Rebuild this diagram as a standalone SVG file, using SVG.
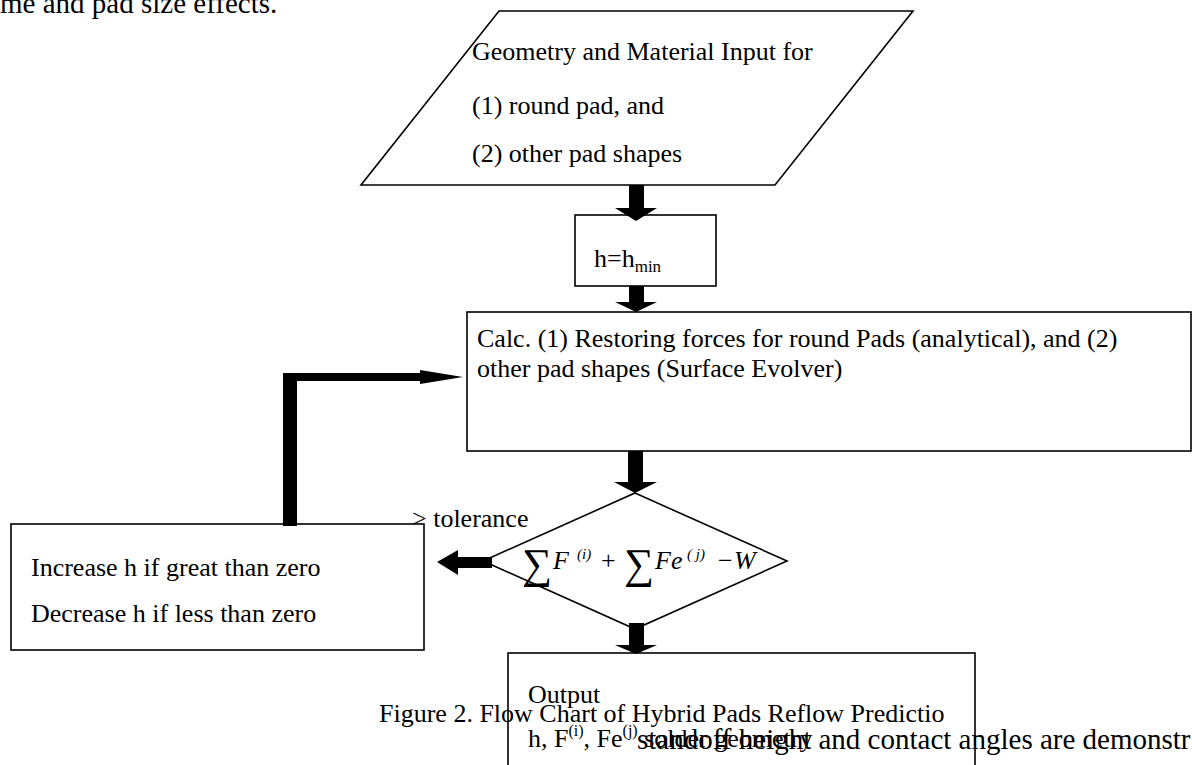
<svg xmlns="http://www.w3.org/2000/svg" width="1192" height="765" viewBox="0 0 1192 765">
<style>
.t{font-family:"Liberation Serif","Times New Roman",serif;font-size:26px;fill:#000}
.b{font-family:"Liberation Serif","Times New Roman",serif;font-size:29px;fill:#000}
.s{fill:#fff;stroke:#000;stroke-width:1.6}
.o{fill:none;stroke:#000;stroke-width:1.6}
.a{fill:#000;stroke:none}
.i{font-style:italic}
.sup{font-family:"Liberation Serif","Times New Roman",serif;font-size:15px;font-style:italic}
.sig{font-family:"Liberation Serif","DejaVu Serif",serif;font-size:42px}
</style>
<rect width="1192" height="765" fill="#fff"/>
<text class="b" x="0" y="13">me and pad size effects.</text>

<g id="input">
  <polygon class="s" points="499,11 913,11 775,185 361,185"/>
  <text class="t" x="472" y="60">Geometry and Material Input for</text>
  <text class="t" x="472" y="114">(1) round pad, and</text>
  <text class="t" x="472" y="162">(2) other pad shapes</text>
</g>

<g id="init">
  <rect class="s" x="575" y="215" width="141" height="71"/>
  <text class="t" x="594" y="267">h=h<tspan font-size="17" dy="5">min</tspan></text>
</g>

<g id="calc">
  <rect class="s" x="467" y="312" width="724" height="139"/>
  <text class="t" x="477" y="347">Calc. (1) Restoring forces for round Pads (analytical), and (2)</text>
  <text class="t" x="477" y="377">other pad shapes (Surface Evolver)</text>
</g>

<g id="check">
  <polygon class="s" points="635,493 787,561 635,629 483,561"/>
  <text class="sig" x="522" y="578">∑</text>
  <text class="t i" x="553" y="569">F</text>
  <text class="sup" x="577" y="559">(i)</text>
  <text class="t" x="601" y="569">+</text>
  <text class="sig" x="624" y="578">∑</text>
  <text class="t i" x="655" y="569">Fe</text>
  <text class="sup" x="687" y="559">( j)</text>
  <text class="t" x="718" y="569">−</text>
  <text class="t i" x="734" y="569">W</text>
</g>

<g id="adjust">
  <rect class="s" x="11" y="524" width="413" height="126"/>
  <text class="t" x="31" y="576">Increase h if great than zero</text>
  <text class="t" x="31" y="622">Decrease h if less than zero</text>
</g>

<g id="output">
  <rect class="o" x="508" y="653" width="467" height="130"/>
  <text class="t" x="528" y="703">Output</text>
  <text class="t" x="528" y="747">h, F<tspan font-size="16" dy="-11">(i)</tspan><tspan dy="11">, Fe</tspan><tspan font-size="16" dy="-11">(j)</tspan><tspan dy="11"> solder geometry</tspan></text>
</g>

<g id="connectors">
  <polygon class="a" points="629,185 644,185 644,208 657,208 636,221 615,208 629,208"/>
  <polygon class="a" points="629,286 644,286 644,302 657,302 636,312 615,302 629,302"/>
  <polygon class="a" points="628,451 643,451 643,482 657,482 635,493 614,482 628,482"/>
  <polygon class="a" points="629,623 644,623 644,645 657,645 636,654 615,645 629,645"/>
  <polygon class="a" points="492,557 492,568 458,568 458,575 437,562 458,550 458,557"/>
  <polygon class="a" points="283,526 283,373 420,373 420,370 463,377 420,384 420,381 297,381 297,526"/>
  <text class="t" x="412" y="527">&gt; tolerance</text>
</g>

<text class="t" x="379" y="722">Figure 2. Flow Chart of Hybrid Pads Reflow Predictio</text>
<text class="b" x="637" y="749">standoff height and contact angles are demonstr</text>
</svg>
